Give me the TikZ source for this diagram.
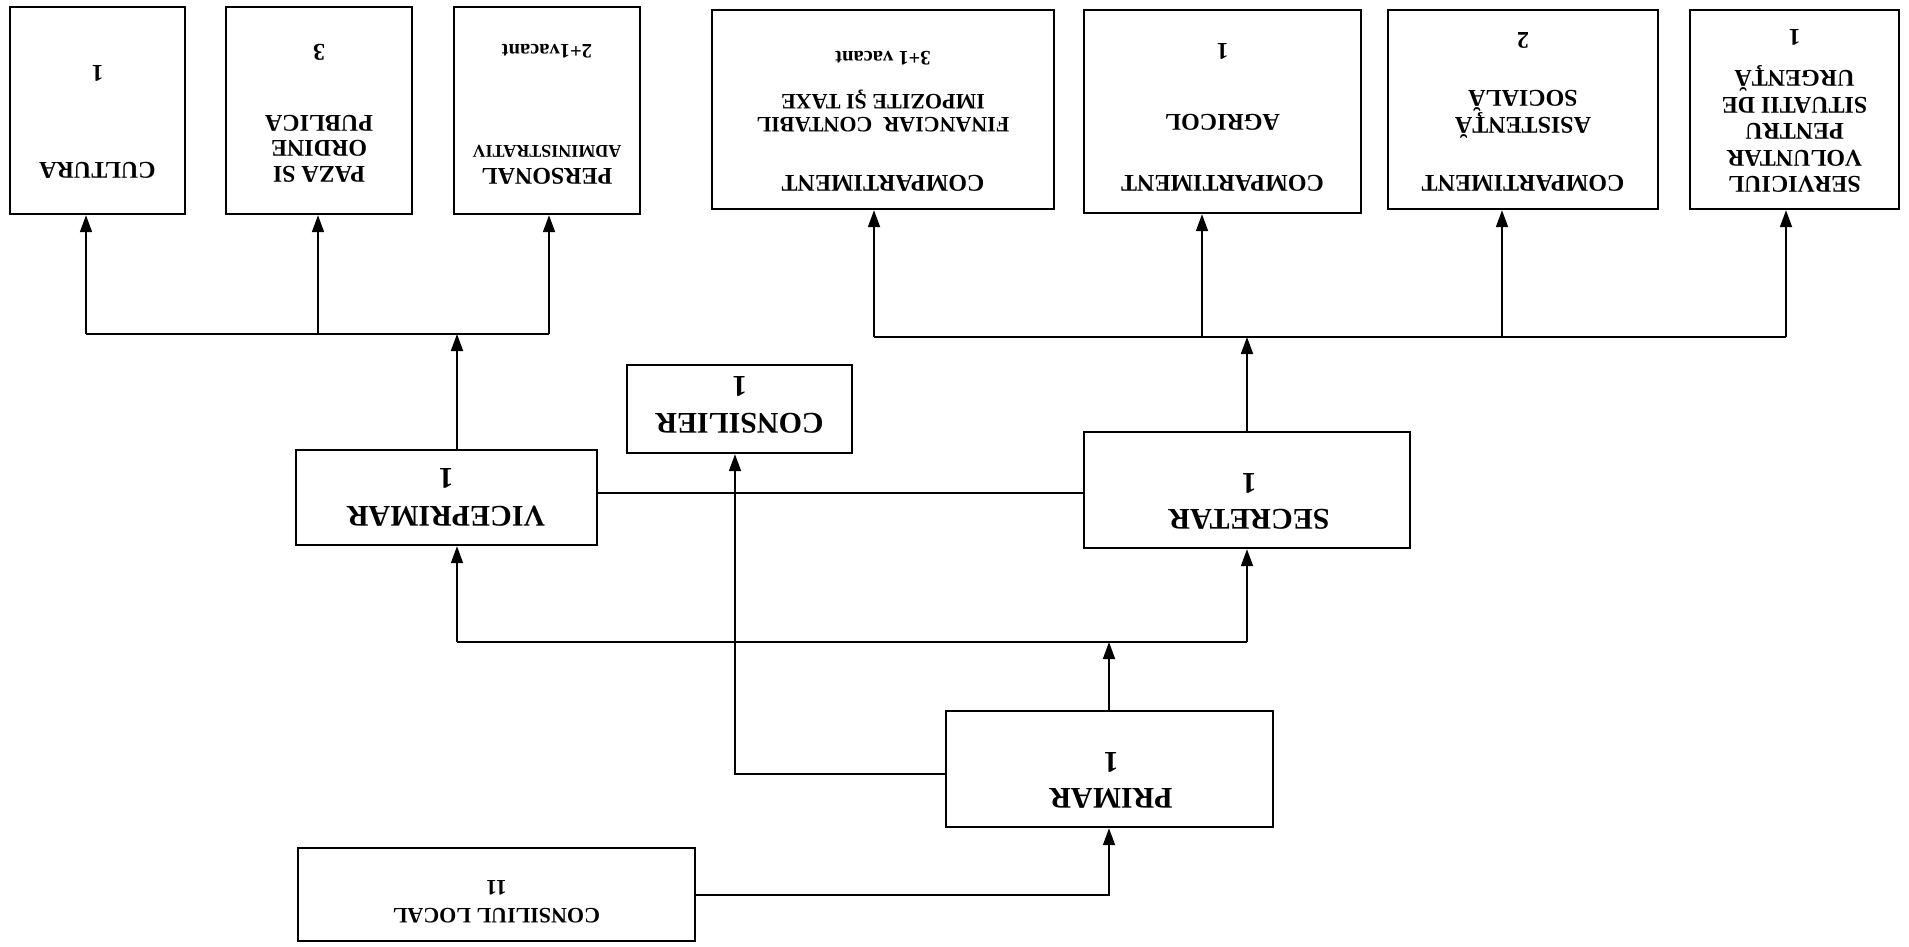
\documentclass[tikz,border=0pt]{standalone}
\usepackage{fontspec}
\setmainfont{Liberation Serif}
\usetikzlibrary{arrows.meta}
\begin{document}
\begin{tikzpicture}[x=1pt,y=-1pt,
  box/.style={draw, line width=2.4pt, rotate=180, inner sep=0pt},
  txt/.style={rotate=180, font=\bfseries\fontsize{24}{26.5}\selectfont, align=center, inner sep=0pt},
  txtfin/.style={rotate=180, font=\bfseries\fontsize{22}{23}\selectfont, align=center, inner sep=0pt},
  big/.style={rotate=180, font=\bfseries\fontsize{30}{32}\selectfont, inner sep=0pt},
  mid/.style={rotate=180, font=\bfseries\fontsize{22}{24}\selectfont, inner sep=0pt},
  small/.style={rotate=180, font=\bfseries\fontsize{20.5}{22}\selectfont, inner sep=0pt},
  tiny/.style={rotate=180, font=\bfseries\fontsize{18}{20}\selectfont, inner sep=0pt},
  conn/.style={line width=1.8pt},
  arr/.style={conn, -{Triangle[length=17pt,width=12pt]}}]
\useasboundingbox[fill=white] (0,0) rectangle (1909,947);
% top-left boxes
\node[box, minimum width=175pt, minimum height=207pt] (cult) at (97.5,110.5) {};
\node[box, minimum width=186pt, minimum height=207pt] (paza) at (319,110.5) {};
\node[box, minimum width=186pt, minimum height=207pt] (pers) at (547,110.5) {};
% top-right boxes
\node[box, minimum width=342pt, minimum height=199pt] (fin) at (883,109.5) {};
\node[box, minimum width=277pt, minimum height=203pt] (agr) at (1222.5,111.5) {};
\node[box, minimum width=270pt, minimum height=199pt] (asis) at (1523,109.5) {};
\node[box, minimum width=209pt, minimum height=199pt] (serv) at (1794.5,109.5) {};
% middle boxes
\node[box, minimum width=301pt, minimum height=95pt] (vice) at (446.5,497.5) {};
\node[box, minimum width=225pt, minimum height=88pt] (cons) at (739.5,409) {};
\node[box, minimum width=326pt, minimum height=116pt] (secr) at (1247,490) {};
\node[box, minimum width=327pt, minimum height=116pt] (prim) at (1109.5,769) {};
\node[box, minimum width=397pt, minimum height=93pt] (local) at (496.5,894.5) {};
% texts
\node[txt] (cultA) at (97.5,170) {CULTURA};
\node[txt] (cultB) at (97.5,73) {1};
\node[txt, font=\bfseries\fontsize{24}{25.5}\selectfont] (pazaA) at (319,148.5) {PAZA SI\\ORDINE\\PUBLICA};
\node[txt] (pazaD) at (319,52) {3};
\node[txt] (persA) at (547,176) {PERSONAL};
\node[tiny] (persB) at (547,151) {ADMINISTRATIV};
\node[small] (persC) at (547,51) {2+1vacant};
\node[txt] (finA) at (883,183) {COMPARTIMENT};
\node[txtfin] (finB) at (883,111) {FINANCIAR\ \ CONTABIL\\IMPOZITE ŞI TAXE};
\node[small] (finD) at (883,58) {3+1 vacant};
\node[txt] (agrA) at (1222.5,183) {COMPARTIMENT};
\node[txt] (agrB) at (1222.5,122) {AGRICOL};
\node[txt] (agrC) at (1222.5,51) {1};
\node[txt] (asisA) at (1523,183) {COMPARTIMENT};
\node[txt] (asisB) at (1523,114.5) {ASISTENŢĂ\\SOCIALĂ};
\node[txt] (asisD) at (1523,40) {2};
\node[txt] (servA) at (1794.5,129) {SERVICIUL\\VOLUNTAR\\PENTRU\\SITUATII DE\\URGENŢĂ};
\node[txt] (servF) at (1794.5,37) {1};
\node[big] (viceA) at (446,516) {VICEPRIMAR};
\node[big] (viceB) at (446,478) {1};
\node[big] (consA) at (739.5,423) {CONSILIER};
\node[big] (consB) at (739.5,386) {1};
\node[big] (secrA) at (1249,519) {SECRETAR};
\node[big] (secrB) at (1249,483) {1};
\node[big] (primA) at (1111,798) {PRIMAR};
\node[big] (primB) at (1111,762) {1};
\node[mid] (localA) at (496.5,916) {CONSILIUL LOCAL};
\node[mid] (localB) at (496.5,888) {11};
% left group connectors
\coordinate (lA) at (86,334);
\coordinate (lB) at (318,334);
\coordinate (lC) at (549,334);
\coordinate (lV) at (457,334);
\draw[conn] (lA) -- (lC);
\draw[arr] (lA) -- (lA |- cult.north);
\draw[arr] (lB) -- (lB |- paza.north);
\draw[arr] (lC) -- (lC |- pers.north);
\draw[arr] (vice.south -| lV) -- (lV);
% right group connectors
\coordinate (rA) at (874,337);
\coordinate (rB) at (1202,337);
\coordinate (rC) at (1502,337);
\coordinate (rD) at (1786,337);
\coordinate (rS) at (1247,337);
\draw[conn] (rA) -- (rD);
\draw[arr] (rA) -- (rA |- fin.north);
\draw[arr] (rB) -- (rB |- agr.north);
\draw[arr] (rC) -- (rC |- asis.north);
\draw[arr] (rD) -- (rD |- serv.north);
\draw[arr] (secr.south -| rS) -- (rS);
% vice - secretar
\coordinate (vs) at (0,493);
\draw[conn] (vice.west |- vs) -- (secr.east |- vs);
% primar level
\coordinate (mA) at (457,642);
\coordinate (mB) at (1247,642);
\coordinate (mP) at (1109,642);
\draw[conn] (mA) -- (mB);
\draw[arr] (mA) -- (mA |- vice.north);
\draw[arr] (mB) -- (mB |- secr.north);
\draw[arr] (prim.south -| mP) -- (mP);
% consilier
\coordinate (cc) at (735,774);
\draw[arr] (prim.east |- cc) -- (cc) -- (cc |- cons.north);
% consiliul local
\coordinate (lp) at (1109,895);
\draw[arr] (local.west |- lp) -- (lp) -- (lp |- prim.north);
\end{tikzpicture}
\end{document}
